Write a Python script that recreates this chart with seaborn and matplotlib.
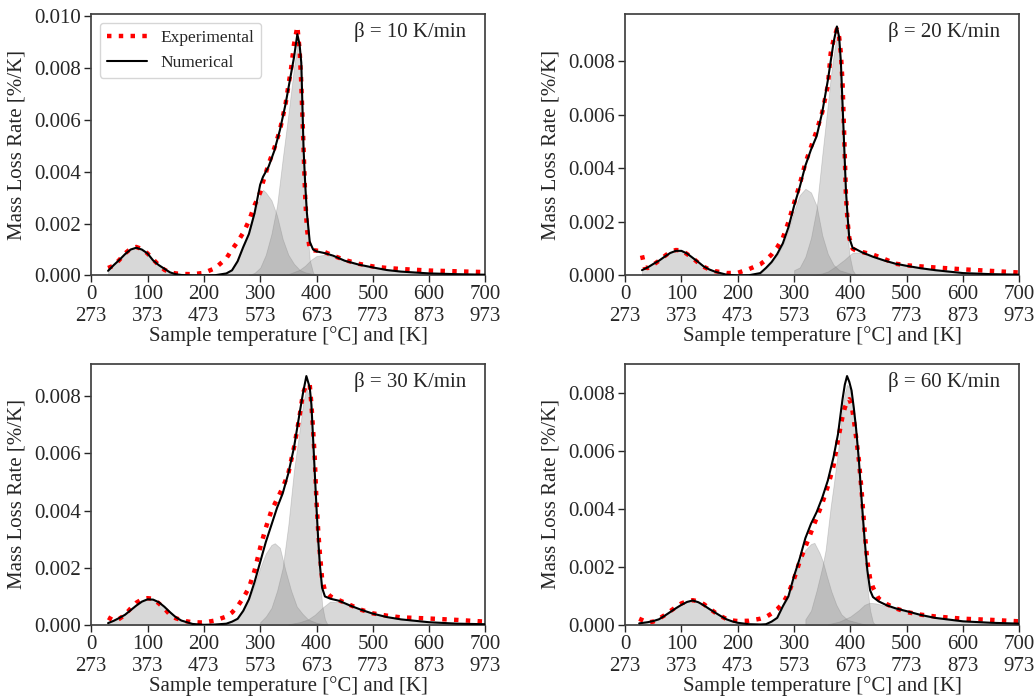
import matplotlib
matplotlib.use("Agg")
import matplotlib.pyplot as plt
import seaborn as sns
from matplotlib.ticker import MultipleLocator, FormatStrFormatter

# ---- beta = 10 K/min ----
T10 = [30, 40, 50, 60, 70, 80, 90, 100, 110, 120, 130, 140, 150, 160, 180, 200, 220, 240, 250, 260,
       270, 280, 290, 300, 305, 315, 325, 335, 345, 355, 360, 366, 370, 373, 377, 380, 383, 388, 394, 400,
       415, 430, 450, 475, 500, 525, 550, 600, 650, 700]
EXP10 = [0.00029, 0.00038, 0.0006, 0.00085, 0.00103, 0.0011, 0.00102, 0.00085, 0.00062, 0.0004, 0.00022,
         0.00012, 0.00008, 0.00006, 0.00005, 0.0001, 0.00028, 0.00066, 0.001, 0.0013, 0.00165, 0.0021,
         0.0027, 0.0032, 0.0036, 0.0043, 0.0049, 0.0056, 0.0066, 0.008, 0.0089, 0.0096, 0.0087, 0.0074,
         0.0049, 0.003, 0.0018, 0.001, 0.00097, 0.00096, 0.0009, 0.00076, 0.0006, 0.00045, 0.00035,
         0.00029, 0.00025, 0.00019, 0.00016, 0.00013]
NUM10 = [0.00018, 0.0004, 0.0006, 0.00082, 0.001, 0.00107, 0.001, 0.00085, 0.00058, 0.0004, 0.00026,
         0.00012, 0.00005, 0.00002, 0.0, 0.0, 0.00001, 0.00008, 0.0002, 0.00055, 0.0011, 0.0016, 0.0024,
         0.0035, 0.0038, 0.0042, 0.0048, 0.0056, 0.0066, 0.0078, 0.0084, 0.0093, 0.0089, 0.0082, 0.0049,
         0.0035, 0.0024, 0.0013, 0.001, 0.00093, 0.00086, 0.00076, 0.00057, 0.00042, 0.00031, 0.00021,
         0.00015, 0.00008, 0.00005, 0.00003]
C1_T10 = [30, 40, 50, 60, 70, 80, 90, 100, 110, 120, 130, 140, 150, 160, 180]
C1_10 = [0.00018, 0.0004, 0.0006, 0.00082, 0.001, 0.00107, 0.001, 0.00085, 0.00058, 0.0004, 0.00026,
         0.00012, 0.00005, 0.00002, 0.0]
C2_T10 = [200, 220, 240, 250, 260, 270, 280, 290, 300, 305, 310, 320, 330, 340, 350, 360, 370, 380, 400]
C2_10 = [0.0, 0.00001, 0.00008, 0.0002, 0.00055, 0.0011, 0.0016, 0.0024, 0.0031, 0.0033, 0.0032, 0.0029,
         0.0023, 0.0014, 0.0008, 0.00045, 0.00022, 0.00012, 0.00003]
C3_T10 = [280, 290, 300, 310, 320, 330, 340, 350, 360, 366, 370, 373, 377, 380, 383, 388, 394, 400]
C3_10 = [0.00002, 0.0001, 0.0003, 0.0008, 0.0016, 0.0027, 0.0045, 0.0062, 0.008, 0.0089, 0.0086, 0.0079,
         0.0047, 0.0031, 0.0019, 0.0006, 0.0001, 0.0]
C4_T10 = [330, 350, 370, 380, 390, 400, 415, 430, 450, 475, 500, 525, 550, 600, 650, 700]
C4_10 = [0.0, 0.00005, 0.00022, 0.00038, 0.0006, 0.00075, 0.0008, 0.00072, 0.00056, 0.00041, 0.0003,
         0.0002, 0.00014, 0.00008, 0.00005, 0.00003]

# ---- beta = 20 K/min ----
T20 = [30, 35, 40, 50, 60, 70, 80, 90, 100, 110, 120, 130, 140, 150, 160, 180, 200, 220, 240, 250, 260,
       270, 280, 290, 300, 310, 320, 330, 340, 350, 360, 365, 370, 376, 380, 383, 386, 389, 392, 395, 398,
       404, 410, 420, 440, 460, 480, 500, 525, 550, 600, 650, 700]
EXP20 = [0.00075, 0.0003, 0.00028, 0.0004, 0.00055, 0.00072, 0.00088, 0.00095, 0.00094, 0.0008, 0.00065,
         0.00047, 0.00032, 0.00022, 0.00016, 0.00009, 0.0001, 0.00024, 0.00042, 0.00058, 0.00078, 0.00105,
         0.0014, 0.002, 0.0027, 0.0034, 0.0042, 0.0048, 0.0054, 0.0061, 0.0071, 0.0083, 0.0088, 0.0092,
         0.0089, 0.0083, 0.0072, 0.0052, 0.003, 0.002, 0.0014, 0.001, 0.00093, 0.00088, 0.00078, 0.00062,
         0.00044, 0.00038, 0.00034, 0.0003, 0.00023, 0.00017, 0.00011]
NUM20 = [0.0002, 0.00025, 0.0003, 0.00043, 0.00055, 0.0007, 0.00084, 0.00092, 0.00092, 0.00082, 0.00066,
         0.0005, 0.00033, 0.00022, 0.00014, 0.00003, 0.0, 0.00001, 0.00009, 0.00028, 0.0005, 0.0008, 0.0012,
         0.0018, 0.0026, 0.0033, 0.0041, 0.0047, 0.0052, 0.0061, 0.0073, 0.008, 0.0087, 0.0093, 0.0089,
         0.008, 0.0064, 0.0048, 0.0032, 0.0022, 0.0014, 0.00103, 0.00098, 0.00087, 0.0007, 0.00056,
         0.00044, 0.00036, 0.00027, 0.0002, 0.00009, 0.00005, 0.00003]
C1_T20 = [30, 40, 50, 60, 70, 80, 90, 100, 110, 120, 130, 140, 150, 160, 180, 200]
C1_20 = [0.0002, 0.0003, 0.00043, 0.00055, 0.0007, 0.00084, 0.00092, 0.00092, 0.00082, 0.00066, 0.0005,
         0.00033, 0.00022, 0.00014, 0.00003, 0.0]
C2_T20 = [220, 240, 250, 260, 270, 280, 290, 300, 310, 320, 330, 340, 350, 360, 370, 380, 400, 420]
C2_20 = [0.00001, 0.00008, 0.00026, 0.00048, 0.00076, 0.00115, 0.0017, 0.0024, 0.003, 0.00324, 0.0031,
         0.0026, 0.0015, 0.0008, 0.0004, 0.0002, 0.00007, 0.0]
C3_T20 = [300, 310, 320, 330, 340, 350, 360, 365, 370, 376, 380, 383, 386, 389, 392, 395, 398, 404, 410]
C3_20 = [0.0002, 0.0003, 0.0007, 0.0014, 0.0025, 0.0045, 0.0064, 0.0074, 0.0082, 0.009, 0.0087, 0.0078,
         0.0062, 0.0045, 0.0028, 0.0016, 0.0008, 0.0002, 0.0]
C4_T20 = [330, 350, 360, 375, 390, 398, 404, 410, 420, 440, 460, 480, 500, 525, 550, 600, 650, 700]
C4_20 = [0.0, 0.00008, 0.00015, 0.00036, 0.0006, 0.00075, 0.00085, 0.00086, 0.00084, 0.00069, 0.00055,
         0.00043, 0.00035, 0.00026, 0.00019, 0.00009, 0.00005, 0.00003]

# ---- beta = 30 K/min ----
T30 = [30, 40, 50, 60, 70, 80, 90, 100, 110, 120, 130, 140, 150, 160, 170, 180, 200, 220, 240, 250, 260,
       270, 280, 290, 300, 310, 320, 330, 340, 350, 360, 370, 376, 382, 388, 391, 394, 397, 400, 403, 406,
       410, 415, 425, 440, 460, 480, 500, 525, 550, 600, 650, 700]
EXP30 = [0.00027, 0.00016, 0.00022, 0.00036, 0.00058, 0.00078, 0.0009, 0.00094, 0.00092, 0.00076, 0.00058,
         0.00036, 0.00024, 0.00018, 0.00013, 0.0001, 0.00009, 0.00016, 0.0003, 0.00044, 0.00066, 0.00095,
         0.0013, 0.0019, 0.0027, 0.0034, 0.004, 0.0044, 0.0048, 0.0053, 0.0062, 0.0073, 0.0081, 0.0084,
         0.0084, 0.0077, 0.0068, 0.0058, 0.0043, 0.0033, 0.0025, 0.0016, 0.0012, 0.001, 0.00087, 0.0007,
         0.00053, 0.00041, 0.00033, 0.00027, 0.00023, 0.00018, 0.00012]
NUM30 = [0.00007, 0.00015, 0.00025, 0.00036, 0.00052, 0.00068, 0.00082, 0.0009, 0.00089, 0.0008, 0.00064,
         0.00045, 0.00028, 0.00016, 0.0001, 0.00004, 0.00001, 0.00002, 0.00005, 0.00012, 0.00022, 0.0005,
         0.0009, 0.0015, 0.0022, 0.0029, 0.0035, 0.0041, 0.0046, 0.0053, 0.0062, 0.0074, 0.0081, 0.0087,
         0.0083, 0.0077, 0.0065, 0.0053, 0.0041, 0.003, 0.0021, 0.0013, 0.001, 0.00092, 0.00085, 0.00068,
         0.00053, 0.0004, 0.00028, 0.0002, 0.0001, 0.00005, 0.00003]
C1_T30 = [30, 40, 50, 60, 70, 80, 90, 100, 110, 120, 130, 140, 150, 160, 170, 180, 200]
C1_30 = [0.00007, 0.00015, 0.00025, 0.00036, 0.00052, 0.00068, 0.00082, 0.0009, 0.00089, 0.0008, 0.00064,
         0.00045, 0.00028, 0.00016, 0.0001, 0.00003, 0.0]
C2_T30 = [220, 240, 250, 260, 270, 280, 290, 300, 310, 320, 326, 335, 345, 355, 365, 375, 385, 400, 420]
C2_30 = [0.00002, 0.00005, 0.00012, 0.00022, 0.0005, 0.0009, 0.0014, 0.002, 0.0025, 0.0028, 0.00286,
         0.0027, 0.0019, 0.0012, 0.00065, 0.0004, 0.0002, 0.00008, 0.0]
C3_T30 = [300, 310, 320, 330, 340, 350, 360, 370, 376, 382, 388, 391, 394, 397, 400, 403, 406, 410, 415, 420]
C3_30 = [0.0001, 0.0003, 0.0006, 0.0012, 0.002, 0.0035, 0.0054, 0.0068, 0.0077, 0.0083, 0.0079, 0.0073,
         0.0062, 0.005, 0.0038, 0.0027, 0.0017, 0.0007, 0.0002, 0.0]
C4_T30 = [350, 370, 385, 397, 410, 424, 440, 460, 480, 500, 525, 550, 600, 650, 700]
C4_30 = [0.00003, 0.0001, 0.0002, 0.00036, 0.0006, 0.00082, 0.0008, 0.00067, 0.00052, 0.0004, 0.00028,
         0.0002, 0.0001, 0.00005, 0.00003]

# ---- beta = 60 K/min ----
T60 = [25, 40, 50, 60, 70, 80, 90, 100, 110, 120, 130, 140, 150, 160, 170, 180, 190, 200, 220, 240, 250,
       260, 270, 280, 290, 300, 310, 320, 330, 340, 350, 360, 370, 378, 386, 390, 394, 398, 402, 406, 410,
       415, 420, 425, 430, 435, 440, 450, 465, 480, 500, 525, 550, 600, 650, 700]
EXP60 = [0.00022, 0.00009, 0.00012, 0.00022, 0.00034, 0.00048, 0.00062, 0.00075, 0.00082, 0.00086,
         0.00082, 0.00072, 0.00057, 0.00043, 0.00031, 0.00021, 0.00016, 0.00014, 0.00015, 0.00022,
         0.00028, 0.0004, 0.00055, 0.00075, 0.0011, 0.0016, 0.0022, 0.0027, 0.0032, 0.0037, 0.0042,
         0.0048, 0.0055, 0.0064, 0.0072, 0.0075, 0.0077, 0.0078, 0.0076, 0.0071, 0.0065, 0.0057, 0.0046,
         0.0033, 0.0022, 0.0016, 0.0013, 0.00092, 0.00072, 0.00058, 0.00045, 0.00036, 0.0003, 0.00022,
         0.00018, 0.00013]
NUM60 = [0.00006, 0.0001, 0.00014, 0.0002, 0.00032, 0.00045, 0.00058, 0.0007, 0.0008, 0.00085, 0.00079,
         0.00068, 0.00055, 0.00043, 0.00031, 0.0002, 0.00013, 0.00008, 0.00003, 0.00002, 0.00003, 0.00012,
         0.00025, 0.00065, 0.001, 0.0017, 0.0023, 0.003, 0.0035, 0.0039, 0.0044, 0.005, 0.0058, 0.0066,
         0.0078, 0.0083, 0.0086, 0.0084, 0.0081, 0.0075, 0.0068, 0.0057, 0.0043, 0.003, 0.0019, 0.0012,
         0.00097, 0.00082, 0.00068, 0.00058, 0.00048, 0.00035, 0.00025, 0.00013, 0.00008, 0.00005]
C1_T60 = [25, 40, 50, 60, 70, 80, 90, 100, 110, 120, 130, 140, 150, 160, 170, 180, 190, 200, 220, 240]
C1_60 = [0.00006, 0.0001, 0.00014, 0.0002, 0.00032, 0.00045, 0.00058, 0.0007, 0.0008, 0.00085, 0.00079,
         0.00068, 0.00055, 0.00043, 0.00031, 0.0002, 0.00013, 0.00008, 0.00003, 0.0]
C2_T60 = [240, 260, 270, 280, 290, 300, 310, 320, 330, 336, 345, 351, 358, 366, 375, 384, 395, 410, 430]
C2_60 = [0.0, 0.00012, 0.00025, 0.00063, 0.00097, 0.0016, 0.0022, 0.0026, 0.0028, 0.00284, 0.0025,
         0.0022, 0.0017, 0.00117, 0.0007, 0.00037, 0.00018, 0.0001, 0.0]
C3_T60 = [320, 330, 340, 350, 356, 365, 370, 378, 386, 390, 394, 398, 402, 406, 410, 415, 420, 425, 430,
          435, 440, 445]
C3_60 = [0.0002, 0.0005, 0.0012, 0.002, 0.0026, 0.0041, 0.0048, 0.006, 0.0075, 0.008, 0.0083, 0.0082,
         0.0079, 0.0073, 0.0065, 0.0052, 0.0037, 0.0024, 0.0013, 0.0005, 0.0001, 0.0]
C4_T60 = [360, 380, 400, 415, 425, 434, 445, 465, 480, 500, 525, 550, 600, 650, 700]
C4_60 = [0.00003, 0.00012, 0.0003, 0.00052, 0.0007, 0.00077, 0.00075, 0.00065, 0.00056, 0.00046, 0.00034,
         0.00024, 0.00012, 0.00007, 0.00004]

RATES = [10, 20, 30, 60]
CURVES = [(T10, EXP10, NUM10), (T20, EXP20, NUM20), (T30, EXP30, NUM30), (T60, EXP60, NUM60)]
COMPONENTS = [
    [(C1_T10, C1_10), (C2_T10, C2_10), (C3_T10, C3_10), (C4_T10, C4_10)],
    [(C1_T20, C1_20), (C2_T20, C2_20), (C3_T20, C3_20), (C4_T20, C4_20)],
    [(C1_T30, C1_30), (C2_T30, C2_30), (C3_T30, C3_30), (C4_T30, C4_30)],
    [(C1_T60, C1_60), (C2_T60, C2_60), (C3_T60, C3_60), (C4_T60, C4_60)],
]
XTICKS = [0, 100, 200, 300, 400, 500, 600, 700]

sns.set_theme(style="ticks", rc={"axes.edgecolor": "0.25"})
plt.rcParams["font.family"] = ["Liberation Serif", "DejaVu Serif"]

fig, axes = plt.subplots(2, 2, figsize=(10.36, 7), dpi=100)
fig.subplots_adjust(left=0.088, right=0.984, bottom=0.107, top=0.980, wspace=0.354, hspace=0.337)

for i, ax in enumerate(axes.flat):
    temp, exp, num = CURVES[i]
    # deconvoluted reaction components
    for ct, cv in COMPONENTS[i]:
        ax.fill_between(ct, 0, cv, color="gray", alpha=0.3, linewidth=0.6, zorder=1)

    sns.lineplot(x=temp, y=exp, ax=ax, color="red", linestyle=":", linewidth=3.2,
                 label="Experimental" if i == 0 else None, zorder=2)
    sns.lineplot(x=temp, y=num, ax=ax, color="black", linewidth=1.5,
                 label="Numerical" if i == 0 else None, zorder=3)

    ax.set_xlim(0, 700)
    ax.set_ylim(bottom=0)
    ax.set_xticks(XTICKS)
    ax.set_xticklabels([f"{t}\n{t + 273}" for t in XTICKS])
    ax.yaxis.set_major_locator(MultipleLocator(0.002))
    ax.yaxis.set_major_formatter(FormatStrFormatter("%.3f"))
    ax.tick_params(labelsize=15, length=5, width=1, pad=2)
    ax.set_xlabel("Sample temperature [°C] and [K]", fontsize=15, labelpad=0)
    ax.set_ylabel("Mass Loss Rate [%/K]", fontsize=15, labelpad=6)
    ax.text(0.952, 0.93, f"β = {RATES[i]} K/min", transform=ax.transAxes,
            ha="right", va="center", fontsize=15)

    if i == 0:
        ax.legend(loc="upper left", fontsize=12.5, handlelength=2.3)
    elif ax.get_legend() is not None:
        ax.get_legend().remove()

fig.savefig("out.png", dpi=100)
